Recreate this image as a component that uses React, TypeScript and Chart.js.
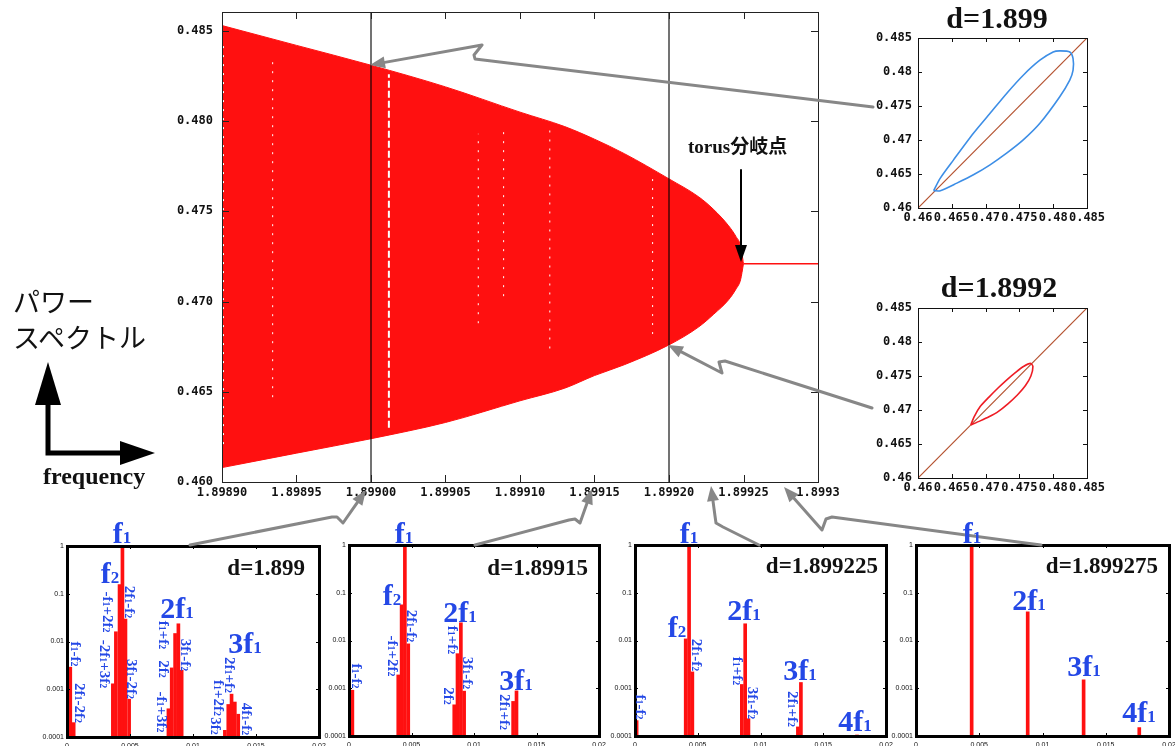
import React, { useEffect, useRef } from 'react';
import { Chart, registerables } from 'chart.js';

Chart.register(...registerables);

// ---------------- colours / fonts ----------------
const RED = '#ff1010';
const BLUE = '#2448e6';
const GRAY = '#878787';
const SERIF = "'Liberation Serif', 'Times New Roman', 'DejaVu Serif', serif";
const MONO = "'DejaVu Sans Mono', 'Liberation Mono', monospace";

// ---------------- main bifurcation diagram ----------------
const dValues = [1.8989, 1.89895, 1.899, 1.89905, 1.8991, 1.89913, 1.89915, 1.89917, 1.8992, 1.89922, 1.89923, 1.89924, 1.899245, 1.899248, 1.89925];
const upperBound = [0.4853, 0.4842, 0.4831, 0.4819, 0.4805, 0.4797, 0.479, 0.4782, 0.4768, 0.4758, 0.4751, 0.4742, 0.4736, 0.4731, 0.4721];
const lowerBound = [0.4608, 0.4616, 0.4624, 0.4633, 0.4645, 0.4652, 0.4659, 0.4665, 0.4676, 0.4686, 0.4693, 0.4701, 0.4707, 0.4712, 0.4721];
const fixedPointD = [1.89925, 1.8993];
const fixedPointV = [0.4721, 0.4721];
const markerD = [1.899, 1.8992];
const streakD = [1.898901, 1.898934, 1.899012, 1.899072, 1.899089, 1.89912, 1.899189];
const streakLow = [0.4621, 0.4647, 0.463, 0.4688, 0.4703, 0.4674, 0.4682];
const streakHigh = [0.4843, 0.4835, 0.4826, 0.4793, 0.4795, 0.4795, 0.477];
const mainXTicks = [1.8989, 1.89895, 1.899, 1.89905, 1.8991, 1.89915, 1.8992, 1.89925, 1.8993];
const mainXLabels = ['1.89890', '1.89895', '1.89900', '1.89905', '1.89910', '1.89915', '1.89920', '1.89925', '1.8993'];
const mainYTicks = [0.46, 0.465, 0.47, 0.475, 0.48, 0.485];
const mainYLabels = ['0.460', '0.465', '0.470', '0.475', '0.480', '0.485'];
const mainYMin = 0.46;
const mainYMax = 0.48605;

// ---------------- phase-plane insets ----------------
const insetTicks = [0.46, 0.465, 0.47, 0.475, 0.48, 0.485];
const insetTickLabels = ['0.46', '0.465', '0.47', '0.475', '0.48', '0.485'];
const diagonal = [0.46, 0.485];
const loop1X = [0.46231, 0.4633, 0.46526, 0.4682, 0.47066, 0.47311, 0.47557, 0.47803, 0.47999, 0.48097, 0.48245, 0.48294, 0.48294, 0.48245, 0.48097, 0.47803, 0.47557, 0.47311, 0.47066, 0.4682, 0.46575, 0.4633, 0.46231];
const loop1Y = [0.46254, 0.4644, 0.46708, 0.47099, 0.47392, 0.47685, 0.47953, 0.48173, 0.48295, 0.4831, 0.48295, 0.48197, 0.48026, 0.4788, 0.47636, 0.47245, 0.47001, 0.46806, 0.46635, 0.46488, 0.46366, 0.46254, 0.46254];
const loop2X = [0.46781, 0.4683, 0.4692, 0.4705, 0.4718, 0.4731, 0.4744, 0.4756, 0.47665, 0.477, 0.4767, 0.4759, 0.4747, 0.4733, 0.4719, 0.4705, 0.4692, 0.46781];
const loop2Y = [0.46781, 0.469, 0.4705, 0.4719, 0.4732, 0.4744, 0.4755, 0.4764, 0.47685, 0.4764, 0.475, 0.4736, 0.4722, 0.4709, 0.4698, 0.469, 0.4684, 0.46781];

// ---------------- power spectra ----------------
const specXTicks = [0, 0.005, 0.01, 0.015, 0.02];
const specXLabels = ['0', '0.005', '0.01', '0.015', '0.02'];
const specYTicks = [0.0001, 0.001, 0.01, 0.1, 1];
const specYLabels = ['0.0001', '0.001', '0.01', '0.1', '1'];
const spec1Freq = [0.00026, 0.00053, 0.00364, 0.00388, 0.00417, 0.0044, 0.00464, 0.00493, 0.00805, 0.00831, 0.00858, 0.00884, 0.0091, 0.01253, 0.0128, 0.01306, 0.01332, 0.01359];
const spec1Power = [0.0029, 0.0002, 0.0013, 0.016, 0.155, 1, 0.0295, 0.00062, 0.00039, 0.0028, 0.0147, 0.0235, 0.0025, 0.000138, 0.00048, 0.00079, 0.00054, 0.0003];
const spec2Freq = [0.00027, 0.00394, 0.00421, 0.00447, 0.00474, 0.00842, 0.00868, 0.00895, 0.00921, 0.01313, 0.0134];
const spec2Power = [0.00091, 0.0019, 0.056, 1, 0.0085, 0.00045, 0.0053, 0.0235, 0.00087, 0.00053, 0.00088];
const spec3Freq = [0.00013, 0.00404, 0.00431, 0.00457, 0.00851, 0.00878, 0.00904, 0.01298, 0.01322, 0.01769];
const spec3Power = [0.00021, 0.0108, 1, 0.0022, 0.0012, 0.0224, 0.00023, 0.000155, 0.00132, 0.000105];
const spec4Freq = [0.0044, 0.00883, 0.01325, 0.01765];
const spec4Power = [1, 0.0398, 0.0015, 0.00015];

// ---------------- layout (page pixels) ----------------
const spectraLayout = [
  { left: 35, top: 540, width: 295, height: 206, yW: 32, padTop: 6, padRight: 11 },
  { left: 317, top: 539, width: 295, height: 207, yW: 32, padTop: 6, padRight: 13 },
  { left: 603, top: 539, width: 295, height: 207, yW: 32, padTop: 6, padRight: 12 },
  { left: 884, top: 539, width: 291, height: 207, yW: 32, padTop: 6, padRight: 6 },
];

type Big = [string, number, number];
type Rot = [string, number, number];
const spectraText: { big: Big[]; rot: Rot[]; d: [string, number, number] }[] = [
  {
    big: [['f1', 122, 543], ['f2', 110, 583], ['2f1', 177, 618], ['3f1', 245, 653]],
    rot: [
      ['f1-f2', 76, 654], ['2f1-2f2', 80, 703], ['-f1+2f2', 108, 612], ['-2f1+3f2', 105, 664],
      ['2f1-f2', 130, 602], ['3f1-2f2', 132, 679], ['f1+f2', 164, 635], ['2f2', 164, 669],
      ['-f1+3f2', 162, 712], ['3f1-f2', 186, 655], ['2f1+f2', 230, 675], ['f1+2f2', 219, 698],
      ['3f2', 216, 726], ['4f1-f2', 247, 719],
    ],
    d: ['d=1.899', 305, 575],
  },
  {
    big: [['f1', 404, 543], ['f2', 392, 605], ['2f1', 460, 622], ['3f1', 516, 690]],
    rot: [
      ['f1-f2', 357, 676], ['-f1+2f2', 393, 656], ['2f1-f2', 412, 626], ['f1+f2', 453, 640],
      ['3f1-f2', 468, 673], ['2f2', 449, 696], ['2f1+f2', 505, 712],
    ],
    d: ['d=1.89915', 588, 575],
  },
  {
    big: [['f1', 689, 543], ['f2', 677, 637], ['2f1', 744, 620], ['3f1', 800, 680], ['4f1', 855, 731]],
    rot: [
      ['f1-f2', 641, 707], ['2f1-f2', 697, 655], ['f1+f2', 738, 671], ['3f1-f2', 753, 703], ['2f1+f2', 793, 709],
    ],
    d: ['d=1.899225', 878, 573],
  },
  {
    big: [['f1', 972, 543], ['2f1', 1029, 610], ['3f1', 1084, 676], ['4f1', 1139, 722]],
    rot: [],
    d: ['d=1.899275', 1158, 573],
  },
];

type Pt = [number, number];
const grayArrows: { pts: Pt[]; tip: Pt }[] = [
  { pts: [[873, 107], [475, 59], [474, 55], [482, 45]], tip: [370, 65] },
  { pts: [[872, 408], [725, 361], [719, 362], [722, 373]], tip: [668, 345] },
  { pts: [[190, 545], [332, 517], [337, 517], [343, 523]], tip: [366, 490] },
  { pts: [[475, 545], [569, 520], [575, 519], [580, 523]], tip: [592, 489] },
  { pts: [[759, 545], [723, 527], [716, 523], [715, 516]], tip: [711, 486] },
  { pts: [[1041, 545], [832, 517], [826, 519], [822, 530]], tip: [784, 487] },
];

// ---------------- plugin: frame + inward ticks ----------------
const frameTicks = {
  id: 'frameTicks',
  afterDatasetsDraw(chart: any, _args: any, opts: any) {
    const { ctx, chartArea: a } = chart;
    const xs = chart.scales.x;
    const ys = chart.scales.y;
    const len = opts.len ?? 5;
    ctx.save();
    ctx.strokeStyle = opts.color ?? '#000';
    ctx.lineWidth = opts.tickWidth ?? 1;
    ctx.beginPath();
    xs.ticks.forEach((t: any) => {
      const p = Math.round(xs.getPixelForValue(t.value)) + 0.5;
      ctx.moveTo(p, a.bottom);
      ctx.lineTo(p, a.bottom - len);
      ctx.moveTo(p, a.top);
      ctx.lineTo(p, a.top + len);
    });
    ys.ticks.forEach((t: any) => {
      const p = Math.round(ys.getPixelForValue(t.value)) + 0.5;
      ctx.moveTo(a.left, p);
      ctx.lineTo(a.left + len, p);
      ctx.moveTo(a.right, p);
      ctx.lineTo(a.right - len, p);
    });
    ctx.stroke();
    ctx.lineWidth = opts.frameWidth ?? 1;
    const fw = ctx.lineWidth;
    const off = fw % 2 === 1 ? 0.5 : 0;
    ctx.strokeRect(Math.round(a.left) + off, Math.round(a.top) + off, Math.round(a.width), Math.round(a.height));
    ctx.restore();
  },
};

function xAxis(min: number, max: number, ticks: number[], labels: string[], h: number, font: any, pad: number, type = 'linear') {
  return {
    type,
    min,
    max,
    offset: false,
    afterBuildTicks: (s: any) => { s.ticks = ticks.map((v) => ({ value: v })); },
    afterFit: (s: any) => { s.height = h; s.paddingLeft = 0; s.paddingRight = 0; },
    grid: { display: false, drawTicks: false },
    border: { display: false },
    ticks: { autoSkip: false, maxRotation: 0, minRotation: 0, padding: pad, color: '#111', font, callback: (_v: any, i: number) => labels[i] },
  };
}
function yAxis(min: number, max: number, ticks: number[], labels: string[], w: number, font: any, pad: number, type = 'linear') {
  return {
    type,
    min,
    max,
    afterBuildTicks: (s: any) => { s.ticks = ticks.map((v) => ({ value: v })); },
    afterFit: (s: any) => { s.width = w; s.paddingTop = 0; s.paddingBottom = 0; },
    grid: { display: false, drawTicks: false },
    border: { display: false },
    ticks: { autoSkip: false, padding: pad, color: '#111', font, callback: (_v: any, i: number) => labels[i] },
  };
}

const basePlugins = { legend: { display: false }, tooltip: { enabled: false } };

function mainConfig(): any {
  const pts = (xs: number[], ys: number[]) => xs.map((x, i) => ({ x, y: ys[i] }));
  const datasets: any[] = [
    { data: pts(dValues, upperBound), borderColor: RED, backgroundColor: RED, borderWidth: 1, pointRadius: 0, fill: '+1', cubicInterpolationMode: 'monotone', order: 3 },
    { data: pts(dValues, lowerBound), borderColor: RED, backgroundColor: RED, borderWidth: 1, pointRadius: 0, fill: false, cubicInterpolationMode: 'monotone', order: 3 },
    { data: pts(fixedPointD, fixedPointV), borderColor: RED, borderWidth: 1.5, pointRadius: 0, fill: false, order: 2 },
  ];
  streakD.forEach((d, i) => {
    datasets.push({
      data: [{ x: d, y: streakLow[i] }, { x: d, y: streakHigh[i] }],
      borderColor: '#ffffff', borderWidth: i === 2 ? 2 : 1, borderDash: i === 2 ? [7, 3] : [2, 7],
      pointRadius: 0, fill: false, order: 1,
    });
  });
  markerD.forEach((d) => {
    datasets.push({
      data: [{ x: d, y: mainYMin }, { x: d, y: mainYMax }],
      borderColor: 'rgba(0,0,0,0.55)', borderWidth: 2, pointRadius: 0, fill: false, order: 0,
    });
  });
  const font = { family: MONO, size: 12, weight: 'bold' };
  return {
    type: 'line',
    data: { datasets },
    options: {
      animation: false, responsive: false, devicePixelRatio: 1,
      layout: { padding: { top: 12, right: 32, left: 0, bottom: 0 } },
      plugins: { ...basePlugins, frameTicks: { len: 7, frameWidth: 1, color: '#222' } },
      scales: {
        x: xAxis(1.8989, 1.8993, mainXTicks, mainXLabels, 23, font, 4),
        y: yAxis(mainYMin, mainYMax, mainYTicks, mainYLabels, 62, font, 9),
      },
    },
    plugins: [frameTicks],
  };
}

function insetConfig(lx: number[], ly: number[], loopColor: string): any {
  const font = { family: MONO, size: 12, weight: 'bold' };
  return {
    type: 'scatter',
    data: {
      datasets: [
        { data: lx.map((x, i) => ({ x, y: ly[i] })), showLine: true, borderColor: loopColor, borderWidth: 1.6, pointRadius: 0, tension: 0.25 },
        { data: diagonal.map((v) => ({ x: v, y: v })), showLine: true, borderColor: '#b4512f', borderWidth: 1.2, pointRadius: 0 },
      ],
    },
    options: {
      animation: false, responsive: false, devicePixelRatio: 1,
      layout: { padding: { top: 8, right: 18, left: 0, bottom: 0 } },
      plugins: { ...basePlugins, frameTicks: { len: 4, frameWidth: 1, color: '#111' } },
      scales: {
        x: xAxis(0.46, 0.485, insetTicks, insetTickLabels, 22, font, 3),
        y: yAxis(0.46, 0.485, insetTicks, insetTickLabels, 68, font, 6),
      },
    },
    plugins: [frameTicks],
  };
}

function spectrumConfig(freq: number[], power: number[], L: any): any {
  const font = { family: "'Liberation Sans', Arial, sans-serif", size: 7 };
  return {
    type: 'bar',
    data: {
      datasets: [{ data: freq.map((x, i) => ({ x, y: power[i] })), backgroundColor: RED, borderWidth: 0, barThickness: 3 }],
    },
    options: {
      animation: false, responsive: false, devicePixelRatio: 1,
      layout: { padding: { top: L.padTop, right: L.padRight, left: 0, bottom: 0 } },
      plugins: { ...basePlugins, frameTicks: { len: 3, frameWidth: 3, color: '#000' } },
      scales: {
        x: xAxis(0, 0.02, specXTicks, specXLabels, L.height - L.padTop - 191, font, 5),
        y: yAxis(0.0001, 1, specYTicks, specYLabels, L.yW, font, 3, 'logarithmic'),
      },
    },
    plugins: [frameTicks],
  };
}

// ---------------- SVG helpers ----------------
function rich(s: string, subSize: number) {
  const out: React.ReactNode[] = [];
  let buf = '';
  for (let i = 0; i < s.length; i++) {
    const c = s[i];
    if (/\d/.test(c) && i > 0 && s[i - 1] === 'f') {
      if (buf) out.push(buf);
      buf = '';
      out.push(<tspan key={i} fontSize={subSize}>{c}</tspan>);
    } else buf += c;
  }
  if (buf) out.push(buf);
  return out;
}

function head(tip: Pt, from: Pt, len: number, half: number) {
  const dx = tip[0] - from[0];
  const dy = tip[1] - from[1];
  const l = Math.hypot(dx, dy);
  const ux = dx / l, uy = dy / l;
  const bx = tip[0] - ux * len, by = tip[1] - uy * len;
  const px = -uy, py = ux;
  return {
    base: [bx, by] as Pt,
    poly: `${tip[0]},${tip[1]} ${bx + px * half},${by + py * half} ${bx - px * half},${by - py * half}`,
  };
}

function Arrow({ pts, tip, color, width, len, half }: { pts: Pt[]; tip: Pt; color: string; width: number; len: number; half: number }) {
  const h = head(tip, pts[pts.length - 1], len, half);
  const d = pts.map((p, i) => `${i === 0 ? 'M' : 'L'}${p[0]},${p[1]}`).join(' ') + ` L${h.base[0]},${h.base[1]}`;
  return (
    <g>
      <path d={d} fill="none" stroke={color} strokeWidth={width} strokeLinejoin="round" strokeLinecap="round" />
      <polygon points={h.poly} fill={color} />
    </g>
  );
}

export default function App() {
  const mainRef = useRef<HTMLCanvasElement>(null);
  const in1Ref = useRef<HTMLCanvasElement>(null);
  const in2Ref = useRef<HTMLCanvasElement>(null);
  const s1 = useRef<HTMLCanvasElement>(null);
  const s2 = useRef<HTMLCanvasElement>(null);
  const s3 = useRef<HTMLCanvasElement>(null);
  const s4 = useRef<HTMLCanvasElement>(null);
  const specRefs = [s1, s2, s3, s4];

  useEffect(() => {
    const charts: Chart[] = [];
    charts.push(new Chart(mainRef.current!, mainConfig()));
    charts.push(new Chart(in1Ref.current!, insetConfig(loop1X, loop1Y, '#3d8ee6')));
    charts.push(new Chart(in2Ref.current!, insetConfig(loop2X, loop2Y, '#ee1c24')));
    const specs: [number[], number[]][] = [[spec1Freq, spec1Power], [spec2Freq, spec2Power], [spec3Freq, spec3Power], [spec4Freq, spec4Power]];
    specs.forEach(([f, p], i) => {
      charts.push(new Chart(specRefs[i].current!, spectrumConfig(f, p, spectraLayout[i])));
    });
    return () => charts.forEach((c) => c.destroy());
  }, []);

  const cv = (left: number, top: number, w: number, h: number) => ({ position: 'absolute' as const, left, top, width: w, height: h });

  return (
    <div style={{ position: 'absolute', left: 0, top: 0, width: 1175, height: 746, background: '#fff', overflow: 'hidden' }}>
      <canvas ref={mainRef} width={690} height={505} style={cv(160, 0, 690, 505)} />
      <canvas ref={in1Ref} width={255} height={200} style={cv(850, 30, 255, 200)} />
      <canvas ref={in2Ref} width={255} height={200} style={cv(850, 300, 255, 200)} />
      {spectraLayout.map((L, i) => (
        <canvas key={i} ref={specRefs[i]} width={L.width} height={L.height} style={cv(L.left, L.top, L.width, L.height)} />
      ))}
      <svg width={1175} height={746} style={{ position: 'absolute', left: 0, top: 0, pointerEvents: 'none' }}>
        {grayArrows.map((a, i) => (
          <Arrow key={i} pts={a.pts} tip={a.tip} color={GRAY} width={3} len={15} half={6} />
        ))}
        <Arrow pts={[[741, 170]]} tip={[741, 262]} color="#000" width={2} len={17} half={6} />
        {/* axis icon */}
        <path d="M48,400 L48,453 L122,453" fill="none" stroke="#000" strokeWidth={5} strokeLinejoin="miter" />
        <polygon points="48,362 35,405 61,405" fill="#000" />
        <polygon points="155,453 120,441 120,465" fill="#000" />
        <text x={13} y={312} fontFamily="'Noto Sans CJK JP', sans-serif" fontSize={27} fill="#111">パワー</text>
        <text x={13} y={348} fontFamily="'Noto Sans CJK JP', sans-serif" fontSize={27} fill="#111">スペクトル</text>
        <text x={43} y={484} fontFamily={SERIF} fontWeight="bold" fontSize={24} fill="#111">frequency</text>
        <text x={688} y={153} fontFamily={`${SERIF}, 'Noto Sans CJK JP'`} fontWeight="bold" fontSize={19} fill="#111">torus分岐点</text>
        <text x={997} y={28} textAnchor="middle" fontFamily={SERIF} fontWeight="bold" fontSize={30} fill="#111">d=1.899</text>
        <text x={999} y={297} textAnchor="middle" fontFamily={SERIF} fontWeight="bold" fontSize={30} fill="#111">d=1.8992</text>
        {spectraText.map((p, i) => (
          <g key={i}>
            <text x={p.d[1]} y={p.d[2]} textAnchor="end" fontFamily={SERIF} fontWeight="bold" fontSize={23} fill="#111">{p.d[0]}</text>
            {p.big.map(([t, x, y], j) => (
              <text key={j} x={x} y={y} textAnchor="middle" fontFamily={SERIF} fontWeight="bold" fontSize={30} fill={BLUE}>{rich(t, 17)}</text>
            ))}
            {p.rot.map(([t, x, y], j) => (
              <text key={'r' + j} transform={`translate(${x} ${y}) rotate(90)`} x={0} y={5} textAnchor="middle" fontFamily={SERIF} fontWeight="bold" fontSize={15} fill={BLUE}>{rich(t, 10)}</text>
            ))}
          </g>
        ))}
      </svg>
    </div>
  );
}
